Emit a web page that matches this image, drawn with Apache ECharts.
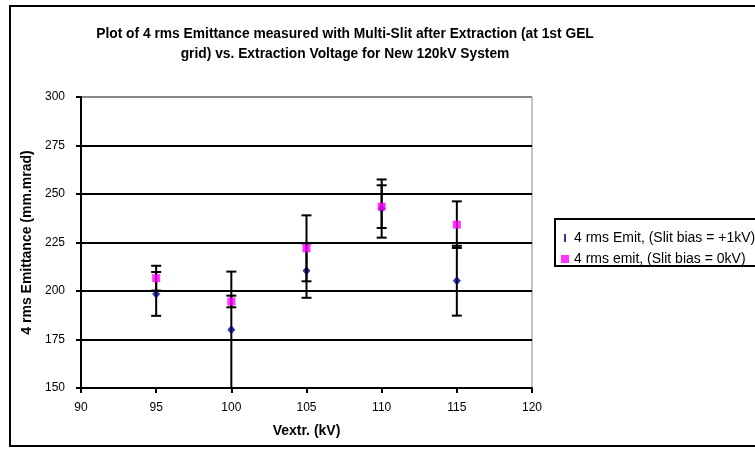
<!DOCTYPE html>
<html>
<head>
<meta charset="utf-8">
<script src="https://cdn.jsdelivr.net/npm/echarts@6/dist/echarts.min.js"></script>
<style>
    html, body { margin: 0; padding: 0; background: #fff; }
    #chart { width: 755px; height: 455px; }
</style>
</head>
<body>
<div id="chart"></div>
<script>
// extraction voltage (kV)
var vextr = [95, 100, 105, 110, 115];
// 4 rms emittance, slit bias = +1kV
var emitBias1 = [198.5, 180, 210.5, 242.5, 205.3];
var emitBias1Err = [11.3, 30, 14, 15, 18];
// 4 rms emittance, slit bias = 0kV
var emitBias0 = [206.6, 194.6, 222, 243.5, 234.2];
var emitBias0Err = [6.4, 3, 17, 11, 12];

var fontName = '"Liberation Sans", Arial, sans-serif';

function pairs(ys) {
    var res = [];
    for (var i = 0; i < vextr.length; i++) {
        res.push([vextr[i], ys[i]]);
    }
    return res;
}

function triples(ys, errs) {
    var res = [];
    for (var i = 0; i < vextr.length; i++) {
        res.push([vextr[i], ys[i], errs[i]]);
    }
    return res;
}

// error bar with caps
function renderErr(params, api) {
    var x = api.value(0), y = api.value(1), e = api.value(2);
    var hi = api.coord([x, y + e]);
    var lo = api.coord([x, y - e]);
    var w = 5;
    var st = { stroke: '#000', lineWidth: 2 };
    return {
        type: 'group',
        children: [
            { type: 'line', shape: { x1: hi[0], y1: hi[1], x2: lo[0], y2: lo[1] }, style: st },
            { type: 'line', shape: { x1: hi[0] - w, y1: hi[1], x2: hi[0] + w, y2: hi[1] }, style: st },
            { type: 'line', shape: { x1: lo[0] - w, y1: lo[1], x2: lo[0] + w, y2: lo[1] }, style: st }
        ]
    };
}

var chart = echarts.init(document.getElementById('chart'));
var option = {
    animation: false,
    backgroundColor: '#fff',
    textStyle: { fontFamily: fontName },
    title: {
        text: 'Plot of 4 rms Emittance measured with Multi-Slit after Extraction (at 1st GEL\ngrid) vs. Extraction Voltage for New 120kV System',
        left: 340,
        top: 19,
        textAlign: 'center',
        textStyle: {
            fontFamily: fontName,
            fontSize: 13.8,
            fontWeight: 'bold',
            color: '#000',
            lineHeight: 20,
            align: 'center'
        }
    },
    graphic: [{
        type: 'rect',
        shape: { x: 10, y: 6, width: 800, height: 440 },
        style: { fill: 'none', stroke: '#000', lineWidth: 2 },
        silent: true
    }],
    legend: {
        left: 555,
        top: 219,
        orient: 'vertical',
        padding: [12, 40, 0, 6],
        itemGap: 7,
        itemWidth: 8,
        itemHeight: 8,
        borderColor: '#000',
        borderWidth: 2,
        textStyle: { fontFamily: fontName, fontSize: 14, color: '#000' },
        data: [
            { name: '4 rms Emit, (Slit bias = +1kV)', icon: 'path://M0,0L0.01,0L0,0.01ZM3,0L5,0L5,8L3,8ZM8,8L7.99,8L8,7.99Z' },
            { name: '4 rms emit, (Slit bias = 0kV)', icon: 'rect' }
        ]
    },
    grid: {
        left: 81,
        right: 223,
        top: 97,
        bottom: 67,
        show: true,
        borderColor: '#888',
        borderWidth: 1
    },
    xAxis: {
        type: 'value',
        min: 90,
        max: 120,
        interval: 5,
        name: 'Vextr. (kV)',
        nameLocation: 'middle',
        nameGap: 36,
        nameTextStyle: { fontFamily: fontName, fontSize: 14, fontWeight: 'bold', color: '#000' },
        axisLine: { lineStyle: { color: '#000', width: 2 } },
        axisTick: { length: 5, lineStyle: { color: '#000', width: 2 } },
        axisLabel: { margin: 14, fontSize: 12, color: '#000', fontFamily: fontName },
        splitLine: { show: false }
    },
    yAxis: {
        type: 'value',
        min: 150,
        max: 300,
        interval: 25,
        name: '4 rms Emittance (mm.mrad)',
        nameLocation: 'middle',
        nameRotate: 90,
        nameGap: 45,
        nameTextStyle: { fontFamily: fontName, fontSize: 14, fontWeight: 'bold', color: '#000' },
        axisLine: { show: true, lineStyle: { color: '#000', width: 2 } },
        axisTick: { show: true, length: 5, lineStyle: { color: '#000', width: 2 } },
        axisLabel: { margin: 16, fontSize: 12, color: '#000', fontFamily: fontName },
        splitLine: {
            lineStyle: { color: ['#000', '#000', '#000', '#000', '#000', '#000', '#888'], width: 2 }
        }
    },
    series: [
        {
            name: '4 rms Emit, (Slit bias = +1kV) err',
            type: 'custom',
            renderItem: renderErr,
            clip: true,
            z: 2,
            data: triples(emitBias1, emitBias1Err)
        },
        {
            name: '4 rms Emit, (Slit bias = +1kV)',
            type: 'scatter',
            symbol: 'diamond',
            symbolSize: [8, 9],
            z: 3,
            itemStyle: { color: '#000080' },
            data: pairs(emitBias1)
        },
        {
            name: '4 rms emit, (Slit bias = 0kV) err',
            type: 'custom',
            renderItem: renderErr,
            clip: true,
            z: 4,
            data: triples(emitBias0, emitBias0Err)
        },
        {
            name: '4 rms emit, (Slit bias = 0kV)',
            type: 'scatter',
            symbol: 'rect',
            symbolSize: 8,
            z: 5,
            itemStyle: { color: '#ff00ff' },
            data: pairs(emitBias0)
        }
    ]
};
chart.setOption(option);
</script>
</body>
</html>
